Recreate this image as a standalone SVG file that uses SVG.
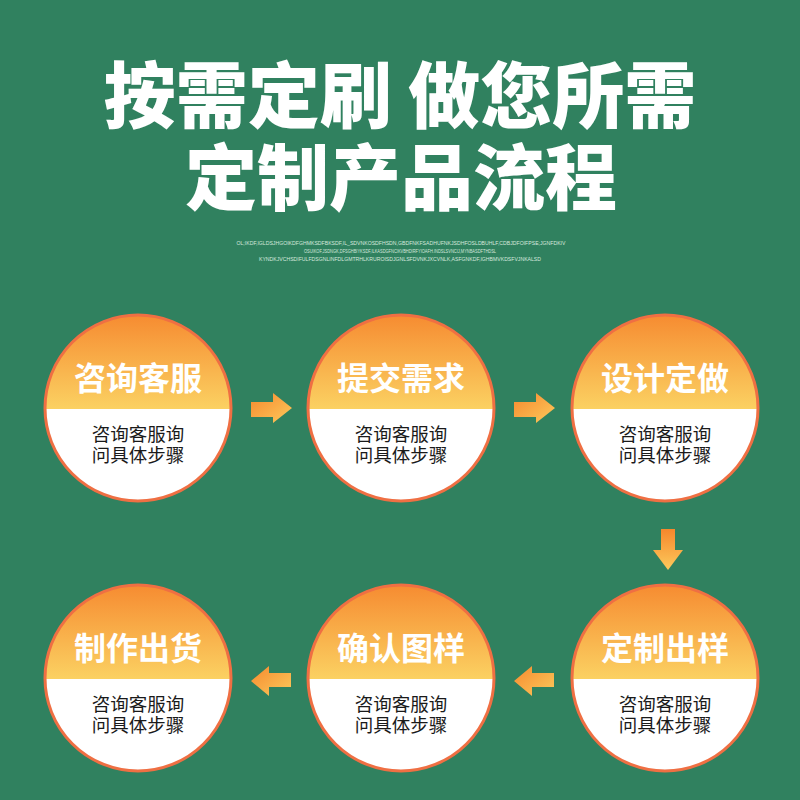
<svg xmlns="http://www.w3.org/2000/svg" width="800" height="800" viewBox="0 0 800 800">
<defs>
<linearGradient id="top" x1="0" y1="0" x2="0" y2="1">
<stop offset="0" stop-color="#f68a30"/>
<stop offset="1" stop-color="#fbd162"/>
</linearGradient>
<linearGradient id="arr" x1="0" y1="0" x2="1" y2="1">
<stop offset="0" stop-color="#f6892e"/>
<stop offset="1" stop-color="#fcca5c"/>
</linearGradient>
<linearGradient id="arrd" x1="0" y1="0" x2="0" y2="1">
<stop offset="0" stop-color="#f6872c"/>
<stop offset="1" stop-color="#fcca5c"/>
</linearGradient>
<clipPath id="c"><circle cx="0" cy="0" r="93"/></clipPath>
<g id="node">
<circle cx="0" cy="0" r="93" fill="#fff"/>
<rect x="-95" y="-95" width="190" height="96" fill="url(#top)" clip-path="url(#c)"/>
<circle cx="0" cy="0" r="93" fill="none" stroke="#ef6f43" stroke-width="3"/>
</g>
</defs>
<style>
.t{font-family:"Noto Sans CJK SC","Noto Sans",sans-serif;fill:#fff;font-weight:900;text-anchor:middle}
.h{font-family:"Noto Sans CJK SC","Noto Sans",sans-serif;fill:#fff;font-weight:bold;font-size:32px;text-anchor:middle}
.b{font-family:"Noto Sans CJK SC","Noto Sans",sans-serif;fill:#1a1a1a;font-size:18.5px;text-anchor:middle}
.s{font-family:"Liberation Sans","DejaVu Sans",sans-serif;fill:#d6e8de;font-size:5px;text-anchor:middle}
</style>
<rect width="800" height="800" fill="#30815f"/>
<text class="t" x="400" y="122" font-size="72">按需定刷 做您所需</text>
<text class="t" x="401" y="204" font-size="72">定制产品流程</text>
<text class="s" x="401" y="245" textLength="329" lengthAdjust="spacingAndGlyphs">OL;IKDF,IGLDSJHGOIKDFGHMKSDFBKSDF,IL_SDVNKOSDFHSDN,GBDFNKFSADHUFNKJSDHFOSLDBUHLF,CDBJDFOIFPSE;JGNFDKIV</text>
<text class="s" x="400" y="253" textLength="192" lengthAdjust="spacingAndGlyphs">OSUIKOF,JSDNGK,DFSGHBIYKSDF,ILKASDGFNCIKVBHDIRFYIOAFH.INDSLSVNCIJ,MYNBASDFTHDSL</text>
<text class="s" x="400" y="261" textLength="282" lengthAdjust="spacingAndGlyphs">KYNDKJVCHSDIFULFDSGNLINFDLGMTRHLKRUROISDJGNLSFDVNKJXCVNLK,ASFGNKDF,IGHBMVKDSFVJNKALSD</text>
<g id="connectors">
<path d="M251 402 H273 V393 L292 408 L273 423 V417 H251 Z" fill="url(#arr)"/>
<path d="M514 402 H536 V393 L555 408 L536 423 V417 H514 Z" fill="url(#arr)"/>
<path d="M661 529 H675 V550 H683 L668 570 L653 550 H661 Z" fill="url(#arrd)"/>
<path d="M554 673 H532 V666 L514 681 L532 696 V687 H554 Z" fill="url(#arr)"/>
<path d="M291 673 H269 V666 L251 681 L269 696 V687 H291 Z" fill="url(#arr)"/>
</g>
<g id="n1" transform="translate(138,408)"><use href="#node"/><text class="h" y="-18">咨询客服</text><text class="b" y="33">咨询客服询</text><text class="b" y="54">问具体步骤</text></g>
<g id="n2" transform="translate(401,408)"><use href="#node"/><text class="h" y="-18">提交需求</text><text class="b" y="33">咨询客服询</text><text class="b" y="54">问具体步骤</text></g>
<g id="n3" transform="translate(665,408)"><use href="#node"/><text class="h" y="-18">设计定做</text><text class="b" y="33">咨询客服询</text><text class="b" y="54">问具体步骤</text></g>
<g id="n4" transform="translate(665,678)"><use href="#node"/><text class="h" y="-18">定制出样</text><text class="b" y="33">咨询客服询</text><text class="b" y="54">问具体步骤</text></g>
<g id="n5" transform="translate(401,678)"><use href="#node"/><text class="h" y="-18">确认图样</text><text class="b" y="33">咨询客服询</text><text class="b" y="54">问具体步骤</text></g>
<g id="n6" transform="translate(138,678)"><use href="#node"/><text class="h" y="-18">制作出货</text><text class="b" y="33">咨询客服询</text><text class="b" y="54">问具体步骤</text></g>
</svg>
